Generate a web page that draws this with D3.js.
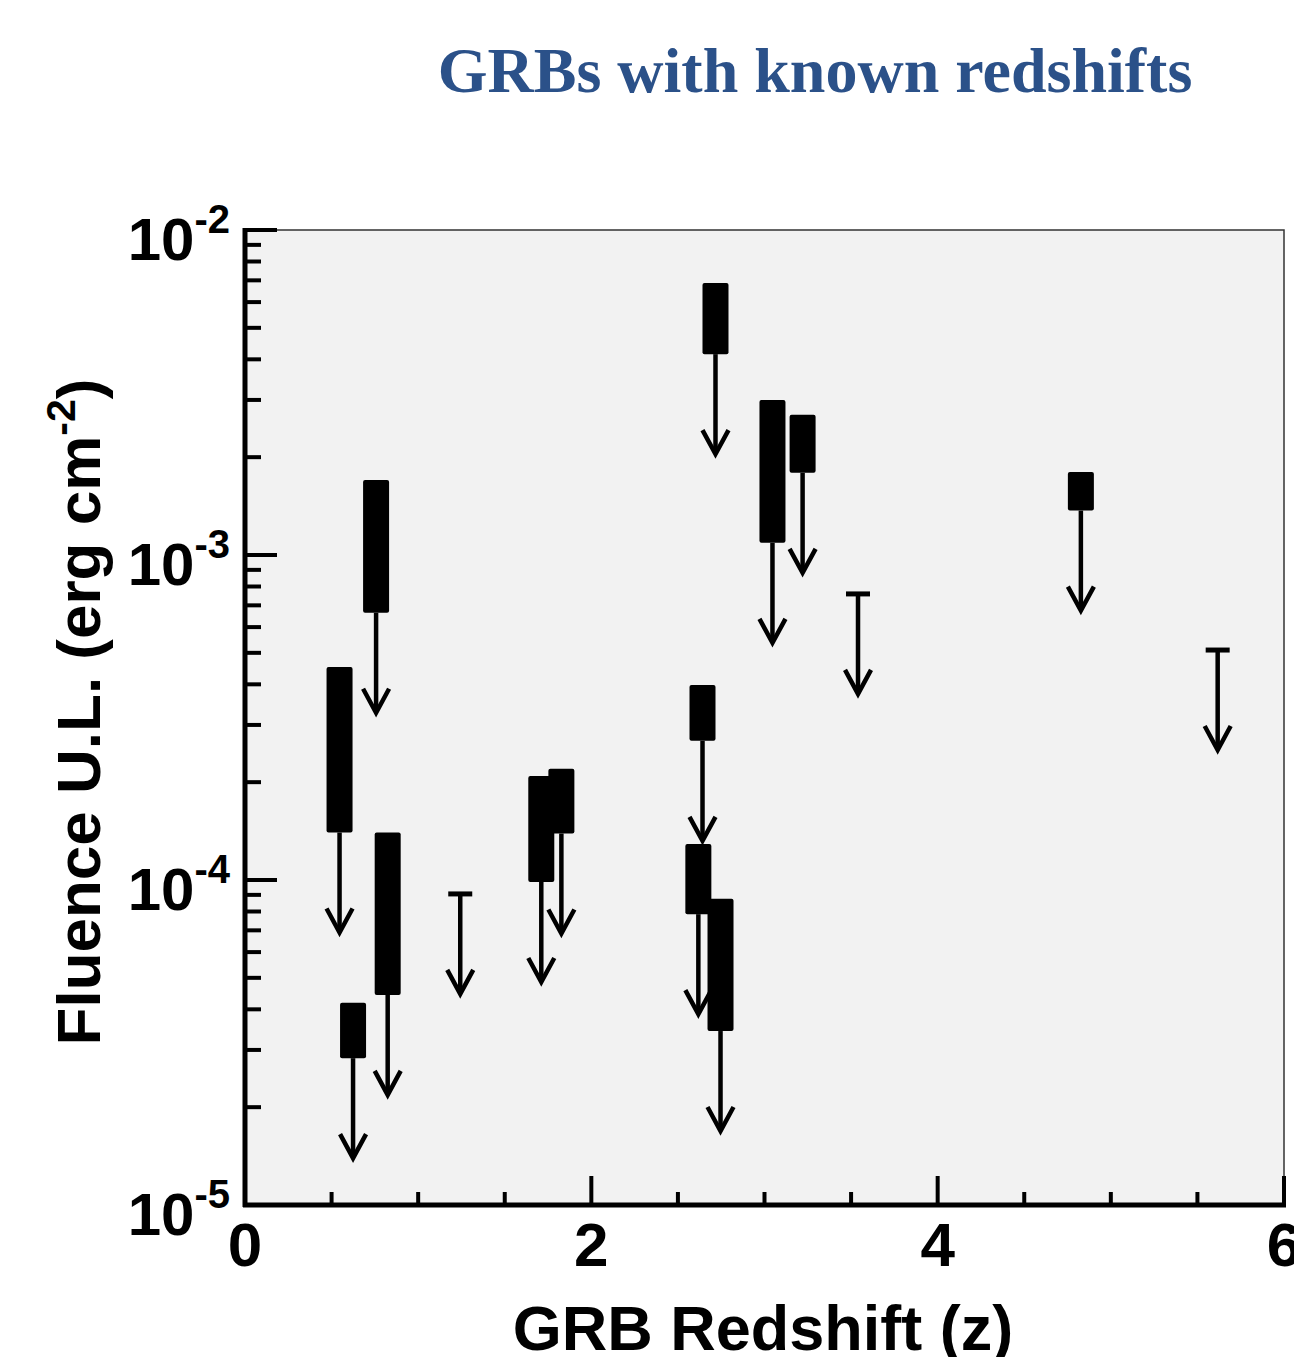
<!DOCTYPE html>
<html lang="en">
<head>
<meta charset="utf-8">
<script src="https://cdn.jsdelivr.net/npm/d3@7"></script>
<style>
    body { margin: 0; background: #fff; }
    svg { display: block; }
</style>
</head>
<body>
<div id="chart"></div>
<script>
    // GRB upper limits: redshift, top and bottom of the fluence band (null bottom = single limit)
    const redshift    = [0.546, 0.624, 0.757, 0.824, 1.243, 1.711, 1.827, 2.642, 2.618, 2.746, 2.717, 3.046, 3.22, 3.54, 4.827, 5.617];
    const fluenceHigh = [4.52e-4, 4.19e-5, 1.70e-3, 1.40e-4, 9.06e-5, 2.09e-4, 2.20e-4, 3.98e-4, 1.29e-4, 8.75e-5, 6.87e-3, 3.0e-3, 2.70e-3, 7.59e-4, 1.80e-3, 5.10e-4];
    const fluenceLow  = [1.40e-4, 2.83e-5, 6.64e-4, 4.43e-5, null, 9.86e-5, 1.39e-4, 2.68e-4, 7.85e-5, 3.43e-5, 4.15e-3, 1.09e-3, 1.79e-3, null, 1.37e-3, null];

    const xTicks = [0, 2, 4, 6];
    const yTicks = [1e-2, 1e-3, 1e-4, 1e-5];
    const yTickExp = ["-2", "-3", "-4", "-5"];

    const width = 1294, height = 1357;
    const plotL = 245, plotR = 1284, plotT = 230, plotB = 1205;

    const svg = d3.select("#chart").append("svg")
        .attr("width", width)
        .attr("height", height);

    const x = d3.scaleLinear().domain([0, 6]).range([plotL, plotR]);
    const y = d3.scaleLog().domain([1e-5, 1e-2]).range([plotB, plotT]);

    // plot background and thin frame
    svg.append("rect")
        .attr("x", plotL).attr("y", plotT)
        .attr("width", plotR - plotL).attr("height", plotB - plotT)
        .attr("fill", "#f2f2f2")
        .attr("stroke", "#333").attr("stroke-width", 1.5);

    // title
    svg.append("text")
        .attr("x", 815).attr("y", 92)
        .attr("text-anchor", "middle")
        .style("font-family", "'Liberation Serif', 'Times New Roman', serif")
        .style("font-weight", "bold")
        .style("font-size", "64px")
        .attr("fill", "#2b5189")
        .text("GRBs with known redshifts");

    // data marks
    const points = redshift.map((z, i) => ({ z: z, hi: fluenceHigh[i], lo: fluenceLow[i] }));
    const barW = 26, arrowLen = 100;

    const g = svg.append("g");
    points.forEach(d => {
        const cx = x(d.z);
        const yStart = d.lo === null ? y(d.hi) : y(d.lo);
        const tip = yStart + arrowLen;

        g.append("line")
            .attr("x1", cx).attr("x2", cx)
            .attr("y1", yStart).attr("y2", tip - 2)
            .attr("stroke", "#000").attr("stroke-width", 4.5);
        g.append("path")
            .attr("d", `M${cx - 13},${tip - 24}L${cx},${tip}L${cx + 13},${tip - 24}`)
            .attr("fill", "none")
            .attr("stroke", "#000").attr("stroke-width", 4.5);

        if (d.lo === null) {
            g.append("line")
                .attr("x1", cx - 12).attr("x2", cx + 12)
                .attr("y1", y(d.hi)).attr("y2", y(d.hi))
                .attr("stroke", "#000").attr("stroke-width", 5);
        } else {
            g.append("rect")
                .attr("x", cx - barW / 2).attr("y", y(d.hi))
                .attr("width", barW).attr("height", y(d.lo) - y(d.hi))
                .attr("rx", 2)
                .attr("fill", "#000");
        }
    });

    // x axis ticks (inward)
    const xMinor = d3.range(0, 6.01, 0.5).filter(v => v % 2 !== 0);
    const axes = svg.append("g").attr("stroke", "#000").attr("stroke-width", 4);
    xMinor.forEach(v => {
        axes.append("line").attr("x1", x(v)).attr("x2", x(v)).attr("y1", plotB).attr("y2", plotB - 13);
    });
    xTicks.forEach(v => {
        axes.append("line").attr("x1", x(v)).attr("x2", x(v)).attr("y1", plotB).attr("y2", plotB - 29);
    });

    // y axis ticks (inward)
    yTicks.forEach(v => {
        axes.append("line").attr("x1", plotL).attr("x2", plotL + 32).attr("y1", y(v)).attr("y2", y(v));
    });
    [1e-5, 1e-4, 1e-3].forEach(dec => {
        d3.range(2, 10).forEach(m => {
            const v = dec * m;
            axes.append("line").attr("x1", plotL).attr("x2", plotL + 16).attr("y1", y(v)).attr("y2", y(v));
        });
    });

    // axis lines
    axes.append("line").attr("x1", plotL).attr("x2", plotL).attr("y1", plotT - 2).attr("y2", plotB + 2).attr("stroke-width", 5);
    axes.append("line").attr("x1", plotL - 2).attr("x2", plotR + 2).attr("y1", plotB).attr("y2", plotB).attr("stroke-width", 5);

    const sans = "'Liberation Sans', Arial, Helvetica, sans-serif";

    // x tick labels
    svg.append("g").selectAll("text")
        .data(xTicks)
        .enter().append("text")
        .attr("x", d => x(d)).attr("y", 1266)
        .attr("text-anchor", "middle")
        .style("font-family", sans).style("font-weight", "bold").style("font-size", "62px")
        .text(d => d);

    // y tick labels
    const yl = svg.append("g").selectAll("text")
        .data(yTicks)
        .enter().append("text")
        .attr("x", 230).attr("y", d => y(d) + 30)
        .attr("text-anchor", "end")
        .style("font-family", sans).style("font-weight", "bold").style("font-size", "60px");
    yl.append("tspan").text("10");
    yl.append("tspan")
        .attr("dy", -27)
        .style("font-size", "40px")
        .text((d, i) => yTickExp[i]);

    // axis titles
    svg.append("text")
        .attr("x", 763).attr("y", 1350)
        .attr("text-anchor", "middle")
        .style("font-family", sans).style("font-weight", "bold").style("font-size", "63px")
        .text("GRB Redshift (z)");

    const yt = svg.append("text")
        .attr("transform", "translate(100,712) rotate(-90)")
        .attr("text-anchor", "middle")
        .style("font-family", sans).style("font-weight", "bold").style("font-size", "62px");
    yt.append("tspan").text("Fluence U.L. (erg cm");
    yt.append("tspan").attr("dy", -25).style("font-size", "41px").text("-2");
    yt.append("tspan").attr("dy", 25).text(")");
</script>
</body>
</html>
